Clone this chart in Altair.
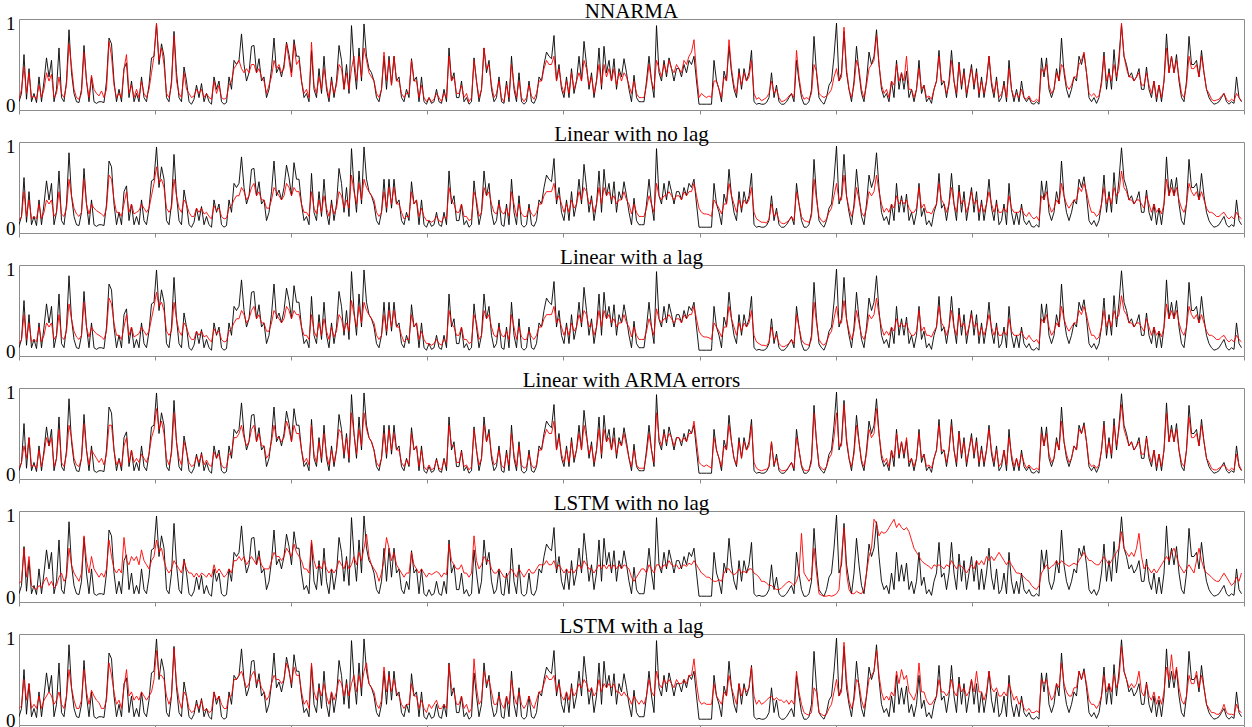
import altair as alt
import pandas as pd

# Observed series (scaled 0..1), shared by every panel
observed = [
    0.05, 0.15, 0.62, 0.08, 0.45, 0.05, 0.15, 0.04, 0.35, 0.05,
    0.3, 0.58, 0.35, 0.55, 0.05, 0.2, 0.7, 0.1, 0.05, 0.3,
    0.92, 0.4, 0.15, 0.05, 0.04, 0.2, 0.73, 0.3, 0.05, 0.35,
    0.05, 0.03, 0.05, 0.05, 0.04, 0.3, 0.82, 0.75, 0.3, 0.05,
    0.2, 0.05, 0.45, 0.52, 0.1, 0.3, 0.05, 0.15, 0.05, 0.35,
    0.1, 0.05, 0.25, 0.58, 0.6, 0.99, 0.5, 0.75, 0.6, 0.1,
    0.05, 0.3, 0.9, 0.4, 0.1, 0.05, 0.47, 0.3, 0.05, 0.02,
    0.08, 0.25, 0.1, 0.27, 0.05, 0.15, 0.05, 0.02, 0.35, 0.2,
    0.3, 0.05, 0.02, 0.04, 0.35, 0.2, 0.55, 0.5, 0.55, 0.87,
    0.5, 0.3, 0.4, 0.72, 0.73, 0.4, 0.57, 0.3, 0.35, 0.1,
    0.2, 0.45, 0.82, 0.4, 0.47, 0.35, 0.5, 0.77, 0.62, 0.4,
    0.8, 0.6, 0.6, 0.3, 0.1, 0.15, 0.05, 0.67, 0.2, 0.1,
    0.45, 0.15, 0.6, 0.2, 0.05, 0.35, 0.1, 0.3, 0.73, 0.55,
    0.2, 0.5, 0.15, 0.97, 0.5, 0.2, 0.7, 0.3, 0.99, 0.6,
    0.45, 0.4, 0.3, 0.1, 0.05, 0.2, 0.6, 0.2, 0.6, 0.25,
    0.6, 0.3, 0.35, 0.1, 0.05, 0.2, 0.1, 0.57, 0.3, 0.35,
    0.05, 0.35, 0.05, 0.02, 0.1, 0.03, 0.05, 0.2, 0.05, 0.03,
    0.2, 0.05, 0.7, 0.3, 0.4, 0.1, 0.1, 0.3, 0.05, 0.1,
    0.02, 0.05, 0.58, 0.3, 0.05, 0.2, 0.7, 0.4, 0.55, 0.2,
    0.05, 0.1, 0.35, 0.05, 0.03, 0.3, 0.05, 0.6, 0.2, 0.05,
    0.4, 0.05, 0.02, 0.05, 0.3, 0.05, 0.03, 0.1, 0.35, 0.3,
    0.5, 0.65, 0.6, 0.57, 0.85, 0.3, 0.5, 0.2, 0.1, 0.35,
    0.1, 0.45, 0.15, 0.3, 0.6, 0.3, 0.78, 0.5, 0.2, 0.4,
    0.1, 0.3, 0.7, 0.2, 0.72, 0.4, 0.55, 0.3, 0.57, 0.2,
    0.45, 0.35, 0.57, 0.4, 0.2, 0.05, 0.37, 0.1, 0.05, 0.05,
    0.05, 0.3, 0.6, 0.3, 0.1, 0.97, 0.4, 0.3, 0.55, 0.35,
    0.58, 0.45, 0.3, 0.45, 0.45, 0.35, 0.5, 0.4, 0.55, 0.5,
    0.6, 0.3, 0.02, 0.02, 0.02, 0.02, 0.02, 0.02, 0.55, 0.3,
    0.2, 0.05, 0.42, 0.3, 0.72, 0.4, 0.2, 0.1, 0.45, 0.2,
    0.45, 0.3, 0.4, 0.67, 0.05, 0.02, 0.03, 0.02, 0.02, 0.04,
    0.1, 0.4, 0.1, 0.25, 0.05, 0.02, 0.02, 0.05, 0.1, 0.15,
    0.05, 0.55, 0.3, 0.1, 0.02, 0.02, 0.05, 0.2, 0.84, 0.4,
    0.1, 0.05, 0.02, 0.1, 0.25, 0.3, 0.6, 1.0, 0.3, 0.4,
    0.9, 0.4, 0.2, 0.05, 0.3, 0.72, 0.4, 0.15, 0.05, 0.3,
    0.65, 0.5, 0.6, 0.92, 0.5, 0.2, 0.1, 0.15, 0.05, 0.3,
    0.1, 0.55, 0.2, 0.4, 0.2, 0.42, 0.1, 0.2, 0.05, 0.2,
    0.55, 0.15, 0.25, 0.05, 0.1, 0.03, 0.2, 0.3, 0.67, 0.25,
    0.3, 0.1, 0.3, 0.67, 0.3, 0.1, 0.53, 0.2, 0.45, 0.1,
    0.3, 0.5, 0.2, 0.45, 0.1, 0.35, 0.1, 0.3, 0.6, 0.25,
    0.1, 0.35, 0.05, 0.1, 0.3, 0.05, 0.55, 0.2, 0.05, 0.2,
    0.05, 0.3, 0.1, 0.05, 0.1, 0.03, 0.02, 0.05, 0.02, 0.58,
    0.35, 0.58, 0.2, 0.1, 0.2, 0.45, 0.3, 0.82, 0.4, 0.2,
    0.1, 0.2, 0.35, 0.3, 0.6, 0.5, 0.63, 0.4, 0.1, 0.05,
    0.1, 0.03, 0.1, 0.3, 0.65, 0.2, 0.45, 0.2, 0.68, 0.3,
    0.6, 0.98, 0.6, 0.5, 0.35, 0.4, 0.3, 0.35, 0.45, 0.2,
    0.2, 0.47, 0.2, 0.1, 0.3, 0.05, 0.25, 0.05, 0.3, 0.87,
    0.4, 0.6, 0.4, 0.62, 0.3, 0.1, 0.05, 0.3, 0.84, 0.5,
    0.5, 0.55, 0.35, 0.67, 0.4, 0.2, 0.1, 0.05, 0.02, 0.03,
    0.05, 0.1, 0.15, 0.05, 0.02, 0.05, 0.03, 0.35, 0.1, 0.05,
]

# Fitted values of each model
nnarma = [
    0.08, 0.2, 0.47, 0.15, 0.4, 0.1, 0.12, 0.08, 0.25, 0.1,
    0.2, 0.4, 0.3, 0.38, 0.1, 0.15, 0.35, 0.15, 0.1, 0.25,
    0.75, 0.48, 0.2, 0.1, 0.08, 0.15, 0.65, 0.3, 0.1, 0.37,
    0.2, 0.15, 0.12, 0.18, 0.1, 0.2, 0.78, 0.6, 0.25, 0.1,
    0.15, 0.1, 0.45, 0.62, 0.15, 0.25, 0.1, 0.2, 0.1, 0.3,
    0.15, 0.1, 0.2, 0.4, 0.6, 1.0, 0.55, 0.7, 0.5, 0.15,
    0.1, 0.25, 0.85, 0.3, 0.15, 0.1, 0.4, 0.2, 0.15, 0.1,
    0.12, 0.2, 0.15, 0.2, 0.1, 0.15, 0.1, 0.08, 0.3, 0.15,
    0.25, 0.1, 0.08, 0.1, 0.25, 0.3, 0.45, 0.5, 0.55, 0.45,
    0.4, 0.45, 0.4, 0.5, 0.5, 0.4, 0.45, 0.35, 0.3, 0.15,
    0.25, 0.35, 0.55, 0.45, 0.5, 0.4, 0.45, 0.75, 0.55, 0.35,
    0.75, 0.5, 0.55, 0.3, 0.15, 0.2, 0.1, 0.77, 0.25, 0.15,
    0.35, 0.2, 0.45, 0.25, 0.1, 0.3, 0.15, 0.25, 0.5, 0.45,
    0.2, 0.4, 0.2, 0.45, 0.6, 0.3, 0.6, 0.35, 0.7, 0.55,
    0.4, 0.35, 0.3, 0.15, 0.1, 0.2, 0.65, 0.3, 0.55, 0.25,
    0.6, 0.3, 0.3, 0.15, 0.1, 0.15, 0.15, 0.55, 0.3, 0.3,
    0.1, 0.25, 0.1, 0.05, 0.1, 0.05, 0.08, 0.15, 0.1, 0.05,
    0.15, 0.1, 0.6, 0.3, 0.35, 0.15, 0.15, 0.25, 0.1, 0.15,
    0.05, 0.1, 0.55, 0.3, 0.1, 0.2, 0.7, 0.45, 0.5, 0.25,
    0.1, 0.15, 0.3, 0.1, 0.05, 0.25, 0.1, 0.5, 0.25, 0.1,
    0.3, 0.1, 0.05, 0.1, 0.25, 0.12, 0.08, 0.15, 0.3, 0.3,
    0.45, 0.55, 0.5, 0.5, 0.6, 0.3, 0.45, 0.25, 0.15, 0.3,
    0.15, 0.4, 0.2, 0.3, 0.4, 0.3, 0.55, 0.45, 0.25, 0.35,
    0.15, 0.3, 0.5, 0.25, 0.5, 0.35, 0.45, 0.3, 0.45, 0.25,
    0.4, 0.3, 0.4, 0.35, 0.25, 0.15, 0.3, 0.15, 0.1, 0.1,
    0.1, 0.25, 0.5, 0.3, 0.2, 0.55, 0.45, 0.35, 0.5, 0.4,
    0.55, 0.45, 0.4, 0.5, 0.45, 0.4, 0.55, 0.5, 0.6, 0.65,
    0.8, 0.4, 0.1, 0.15, 0.12, 0.1, 0.12, 0.1, 0.3, 0.3,
    0.2, 0.1, 0.35, 0.3, 0.8, 0.45, 0.25, 0.15, 0.4, 0.25,
    0.4, 0.3, 0.35, 0.55, 0.15, 0.08, 0.1, 0.06, 0.08, 0.1,
    0.15, 0.3, 0.15, 0.2, 0.1, 0.05, 0.06, 0.08, 0.12, 0.15,
    0.1, 0.67, 0.35, 0.15, 0.08, 0.1, 0.08, 0.15, 0.5, 0.42,
    0.15, 0.12, 0.1, 0.12, 0.15, 0.2, 0.35, 0.45, 0.3, 0.35,
    0.95, 0.45, 0.2, 0.1, 0.25, 0.55, 0.45, 0.2, 0.1, 0.25,
    0.45, 0.5, 0.55, 0.85, 0.5, 0.25, 0.15, 0.2, 0.1, 0.3,
    0.25, 0.5, 0.3, 0.4, 0.3, 0.6, 0.2, 0.2, 0.1, 0.2,
    0.45, 0.2, 0.25, 0.1, 0.12, 0.08, 0.2, 0.3, 0.6, 0.3,
    0.3, 0.15, 0.25, 0.55, 0.3, 0.15, 0.5, 0.25, 0.4, 0.15,
    0.3, 0.45, 0.25, 0.4, 0.15, 0.3, 0.15, 0.3, 0.6, 0.3,
    0.15, 0.3, 0.1, 0.15, 0.25, 0.1, 0.45, 0.2, 0.1, 0.15,
    0.1, 0.2, 0.1, 0.08, 0.12, 0.06, 0.05, 0.08, 0.05, 0.45,
    0.4, 0.5, 0.25, 0.15, 0.2, 0.4, 0.3, 0.5, 0.45, 0.25,
    0.2, 0.25, 0.35, 0.35, 0.5, 0.55, 0.65, 0.4, 0.15, 0.12,
    0.15, 0.1, 0.12, 0.25, 0.6, 0.3, 0.4, 0.3, 0.5, 0.35,
    0.5, 1.0, 0.6, 0.45, 0.35, 0.35, 0.3, 0.35, 0.4, 0.25,
    0.25, 0.4, 0.25, 0.15, 0.3, 0.1, 0.25, 0.1, 0.3, 0.7,
    0.4, 0.6, 0.4, 0.55, 0.35, 0.15, 0.1, 0.25, 0.6, 0.45,
    0.45, 0.5, 0.35, 0.6, 0.4, 0.2, 0.15, 0.08, 0.06, 0.07,
    0.08, 0.12, 0.15, 0.08, 0.05, 0.08, 0.06, 0.15, 0.1, 0.06,
]

linear_no_lag = [
    0.1, 0.15, 0.45, 0.15, 0.35, 0.12, 0.15, 0.12, 0.3, 0.12,
    0.2, 0.35, 0.3, 0.35, 0.15, 0.2, 0.45, 0.18, 0.15, 0.25,
    0.6, 0.4, 0.25, 0.18, 0.15, 0.2, 0.6, 0.3, 0.18, 0.3,
    0.25, 0.22, 0.2, 0.18, 0.15, 0.25, 0.65, 0.6, 0.35, 0.2,
    0.2, 0.15, 0.3, 0.45, 0.2, 0.3, 0.18, 0.2, 0.22, 0.3,
    0.25, 0.2, 0.25, 0.4, 0.55, 0.75, 0.55, 0.6, 0.5, 0.25,
    0.2, 0.25, 0.6, 0.4, 0.25, 0.2, 0.35, 0.3, 0.2, 0.15,
    0.15, 0.25, 0.2, 0.25, 0.18, 0.2, 0.15, 0.12, 0.28, 0.22,
    0.25, 0.15, 0.12, 0.13, 0.25, 0.28, 0.35, 0.4, 0.4, 0.5,
    0.45, 0.35, 0.4, 0.5, 0.55, 0.4, 0.45, 0.35, 0.35, 0.25,
    0.25, 0.35, 0.5, 0.45, 0.4, 0.35, 0.4, 0.55, 0.5, 0.4,
    0.5, 0.45, 0.45, 0.3, 0.2, 0.2, 0.15, 0.45, 0.25, 0.18,
    0.35, 0.2, 0.4, 0.25, 0.15, 0.3, 0.18, 0.25, 0.45, 0.4,
    0.25, 0.35, 0.25, 0.65, 0.45, 0.3, 0.55, 0.35, 0.6, 0.5,
    0.45, 0.4, 0.35, 0.2, 0.15, 0.2, 0.45, 0.25, 0.5, 0.3,
    0.5, 0.3, 0.3, 0.2, 0.12, 0.15, 0.15, 0.45, 0.3, 0.35,
    0.15, 0.25, 0.15, 0.1, 0.1, 0.08, 0.1, 0.15, 0.1, 0.08,
    0.15, 0.12, 0.5, 0.35, 0.3, 0.2, 0.2, 0.3, 0.15, 0.15,
    0.1, 0.12, 0.45, 0.35, 0.15, 0.2, 0.5, 0.4, 0.45, 0.3,
    0.2, 0.18, 0.3, 0.2, 0.18, 0.25, 0.15, 0.45, 0.3, 0.15,
    0.3, 0.18, 0.15, 0.15, 0.25, 0.18, 0.15, 0.2, 0.3, 0.3,
    0.4, 0.45, 0.45, 0.45, 0.55, 0.35, 0.4, 0.3, 0.2, 0.3,
    0.2, 0.35, 0.25, 0.3, 0.45, 0.35, 0.5, 0.45, 0.3, 0.35,
    0.2, 0.3, 0.5, 0.3, 0.5, 0.4, 0.45, 0.35, 0.4, 0.3,
    0.35, 0.35, 0.45, 0.35, 0.3, 0.18, 0.3, 0.2, 0.15, 0.15,
    0.15, 0.25, 0.4, 0.3, 0.2, 0.55, 0.4, 0.35, 0.4, 0.4,
    0.45, 0.4, 0.35, 0.4, 0.4, 0.35, 0.45, 0.4, 0.45, 0.45,
    0.55, 0.4, 0.25, 0.2, 0.18, 0.18, 0.17, 0.15, 0.35, 0.3,
    0.25, 0.18, 0.3, 0.3, 0.55, 0.4, 0.3, 0.2, 0.35, 0.25,
    0.35, 0.3, 0.35, 0.5, 0.2, 0.12, 0.1, 0.08, 0.08, 0.07,
    0.12, 0.3, 0.15, 0.2, 0.1, 0.07, 0.06, 0.08, 0.1, 0.15,
    0.1, 0.45, 0.3, 0.15, 0.1, 0.09, 0.08, 0.15, 0.6, 0.35,
    0.15, 0.1, 0.08, 0.12, 0.2, 0.25, 0.4, 0.55, 0.35, 0.35,
    0.65, 0.4, 0.25, 0.15, 0.25, 0.5, 0.35, 0.2, 0.15, 0.25,
    0.45, 0.4, 0.45, 0.65, 0.45, 0.3, 0.2, 0.25, 0.2, 0.3,
    0.25, 0.4, 0.3, 0.35, 0.3, 0.35, 0.25, 0.2, 0.2, 0.25,
    0.5, 0.25, 0.3, 0.2, 0.2, 0.18, 0.25, 0.3, 0.55, 0.35,
    0.3, 0.2, 0.3, 0.5, 0.3, 0.2, 0.45, 0.3, 0.35, 0.2,
    0.3, 0.45, 0.3, 0.35, 0.2, 0.3, 0.2, 0.3, 0.45, 0.3,
    0.2, 0.3, 0.2, 0.2, 0.25, 0.2, 0.4, 0.25, 0.2, 0.2,
    0.2, 0.25, 0.18, 0.15, 0.2, 0.15, 0.12, 0.15, 0.1, 0.4,
    0.35, 0.45, 0.3, 0.2, 0.25, 0.35, 0.3, 0.55, 0.4, 0.3,
    0.25, 0.3, 0.35, 0.35, 0.5, 0.45, 0.55, 0.45, 0.3, 0.2,
    0.2, 0.15, 0.18, 0.3, 0.5, 0.3, 0.4, 0.3, 0.5, 0.4,
    0.45, 0.7, 0.5, 0.45, 0.35, 0.35, 0.3, 0.35, 0.35, 0.3,
    0.25, 0.4, 0.3, 0.2, 0.3, 0.2, 0.25, 0.18, 0.3, 0.6,
    0.4, 0.5, 0.4, 0.5, 0.35, 0.25, 0.2, 0.3, 0.55, 0.45,
    0.4, 0.45, 0.35, 0.45, 0.35, 0.25, 0.2, 0.2, 0.18, 0.15,
    0.15, 0.18, 0.2, 0.15, 0.12, 0.15, 0.12, 0.2, 0.15, 0.12,
]

linear_with_lag = [
    0.1, 0.15, 0.45, 0.15, 0.35, 0.12, 0.15, 0.12, 0.3, 0.12,
    0.2, 0.35, 0.3, 0.35, 0.15, 0.2, 0.45, 0.18, 0.15, 0.25,
    0.58, 0.4, 0.25, 0.18, 0.15, 0.2, 0.6, 0.3, 0.18, 0.3,
    0.25, 0.22, 0.2, 0.18, 0.15, 0.25, 0.65, 0.58, 0.35, 0.2,
    0.2, 0.15, 0.3, 0.45, 0.2, 0.3, 0.18, 0.2, 0.22, 0.3,
    0.25, 0.2, 0.25, 0.4, 0.55, 0.72, 0.55, 0.6, 0.5, 0.25,
    0.2, 0.25, 0.6, 0.4, 0.25, 0.2, 0.35, 0.3, 0.2, 0.15,
    0.15, 0.25, 0.2, 0.25, 0.18, 0.2, 0.15, 0.12, 0.28, 0.22,
    0.25, 0.15, 0.12, 0.13, 0.25, 0.28, 0.35, 0.4, 0.4, 0.5,
    0.45, 0.35, 0.4, 0.5, 0.55, 0.4, 0.45, 0.35, 0.35, 0.25,
    0.25, 0.35, 0.5, 0.45, 0.4, 0.35, 0.4, 0.55, 0.5, 0.4,
    0.5, 0.45, 0.45, 0.3, 0.2, 0.2, 0.15, 0.45, 0.25, 0.18,
    0.35, 0.2, 0.4, 0.25, 0.15, 0.3, 0.18, 0.25, 0.45, 0.4,
    0.25, 0.35, 0.25, 0.62, 0.45, 0.3, 0.55, 0.35, 0.6, 0.5,
    0.45, 0.4, 0.35, 0.2, 0.15, 0.2, 0.45, 0.25, 0.5, 0.3,
    0.5, 0.3, 0.3, 0.2, 0.12, 0.15, 0.15, 0.45, 0.3, 0.35,
    0.15, 0.25, 0.15, 0.1, 0.1, 0.08, 0.1, 0.15, 0.1, 0.08,
    0.15, 0.12, 0.5, 0.35, 0.3, 0.2, 0.2, 0.3, 0.15, 0.15,
    0.1, 0.12, 0.45, 0.35, 0.15, 0.2, 0.5, 0.4, 0.45, 0.3,
    0.2, 0.18, 0.3, 0.2, 0.18, 0.25, 0.15, 0.45, 0.3, 0.15,
    0.3, 0.18, 0.15, 0.15, 0.25, 0.18, 0.15, 0.2, 0.3, 0.3,
    0.4, 0.45, 0.45, 0.45, 0.55, 0.35, 0.4, 0.3, 0.2, 0.3,
    0.2, 0.35, 0.25, 0.3, 0.45, 0.35, 0.5, 0.45, 0.3, 0.35,
    0.2, 0.3, 0.5, 0.3, 0.5, 0.4, 0.45, 0.35, 0.4, 0.3,
    0.35, 0.35, 0.45, 0.35, 0.3, 0.18, 0.3, 0.2, 0.15, 0.15,
    0.15, 0.25, 0.4, 0.3, 0.2, 0.52, 0.4, 0.35, 0.4, 0.4,
    0.45, 0.4, 0.35, 0.4, 0.4, 0.35, 0.45, 0.4, 0.45, 0.45,
    0.55, 0.4, 0.25, 0.2, 0.18, 0.18, 0.17, 0.15, 0.35, 0.3,
    0.25, 0.18, 0.3, 0.3, 0.55, 0.4, 0.3, 0.2, 0.35, 0.25,
    0.35, 0.3, 0.35, 0.5, 0.2, 0.12, 0.1, 0.08, 0.08, 0.07,
    0.12, 0.3, 0.15, 0.2, 0.1, 0.07, 0.06, 0.08, 0.1, 0.15,
    0.1, 0.45, 0.3, 0.15, 0.1, 0.09, 0.08, 0.15, 0.6, 0.35,
    0.15, 0.1, 0.08, 0.12, 0.2, 0.25, 0.4, 0.55, 0.35, 0.35,
    0.62, 0.4, 0.25, 0.15, 0.25, 0.5, 0.35, 0.2, 0.15, 0.25,
    0.45, 0.4, 0.45, 0.65, 0.45, 0.3, 0.2, 0.25, 0.2, 0.3,
    0.25, 0.4, 0.3, 0.35, 0.3, 0.35, 0.25, 0.2, 0.2, 0.25,
    0.5, 0.25, 0.3, 0.2, 0.2, 0.18, 0.25, 0.3, 0.55, 0.35,
    0.3, 0.2, 0.3, 0.5, 0.3, 0.2, 0.45, 0.3, 0.35, 0.2,
    0.3, 0.45, 0.3, 0.35, 0.2, 0.3, 0.2, 0.3, 0.45, 0.3,
    0.2, 0.3, 0.2, 0.2, 0.25, 0.2, 0.4, 0.25, 0.2, 0.2,
    0.2, 0.25, 0.18, 0.15, 0.2, 0.15, 0.12, 0.15, 0.1, 0.4,
    0.35, 0.45, 0.3, 0.2, 0.25, 0.35, 0.3, 0.55, 0.4, 0.3,
    0.25, 0.3, 0.35, 0.35, 0.5, 0.45, 0.55, 0.45, 0.3, 0.2,
    0.2, 0.15, 0.18, 0.3, 0.5, 0.3, 0.4, 0.3, 0.5, 0.4,
    0.45, 0.68, 0.5, 0.45, 0.35, 0.35, 0.3, 0.35, 0.35, 0.3,
    0.25, 0.4, 0.3, 0.2, 0.3, 0.2, 0.25, 0.18, 0.3, 0.58,
    0.4, 0.5, 0.4, 0.5, 0.35, 0.25, 0.2, 0.3, 0.55, 0.45,
    0.4, 0.45, 0.35, 0.45, 0.35, 0.25, 0.2, 0.2, 0.18, 0.15,
    0.15, 0.18, 0.2, 0.15, 0.12, 0.15, 0.12, 0.2, 0.15, 0.12,
]

linear_arma_errors = [
    0.08, 0.15, 0.35, 0.2, 0.45, 0.1, 0.12, 0.08, 0.3, 0.1,
    0.25, 0.45, 0.35, 0.45, 0.1, 0.2, 0.55, 0.15, 0.1, 0.25,
    0.6, 0.45, 0.2, 0.12, 0.1, 0.2, 0.62, 0.3, 0.12, 0.3,
    0.25, 0.2, 0.15, 0.2, 0.12, 0.25, 0.6, 0.6, 0.3, 0.12,
    0.18, 0.1, 0.35, 0.45, 0.15, 0.3, 0.15, 0.2, 0.15, 0.25,
    0.2, 0.15, 0.25, 0.45, 0.55, 0.8, 0.55, 0.65, 0.5, 0.2,
    0.12, 0.25, 0.75, 0.4, 0.2, 0.12, 0.4, 0.28, 0.15, 0.1,
    0.12, 0.22, 0.15, 0.25, 0.12, 0.18, 0.12, 0.1, 0.28, 0.2,
    0.25, 0.12, 0.08, 0.1, 0.25, 0.25, 0.45, 0.45, 0.5, 0.6,
    0.45, 0.35, 0.4, 0.55, 0.6, 0.4, 0.5, 0.35, 0.35, 0.2,
    0.25, 0.4, 0.6, 0.45, 0.45, 0.4, 0.45, 0.65, 0.55, 0.4,
    0.6, 0.5, 0.5, 0.3, 0.15, 0.2, 0.12, 0.6, 0.25, 0.15,
    0.4, 0.2, 0.5, 0.25, 0.12, 0.3, 0.15, 0.3, 0.55, 0.5,
    0.25, 0.45, 0.2, 0.75, 0.5, 0.25, 0.55, 0.35, 0.75, 0.55,
    0.45, 0.4, 0.3, 0.15, 0.1, 0.2, 0.5, 0.25, 0.55, 0.3,
    0.5, 0.3, 0.3, 0.15, 0.1, 0.18, 0.12, 0.5, 0.3, 0.35,
    0.1, 0.3, 0.1, 0.06, 0.12, 0.06, 0.08, 0.18, 0.08, 0.06,
    0.18, 0.1, 0.6, 0.35, 0.35, 0.15, 0.15, 0.28, 0.1, 0.12,
    0.06, 0.1, 0.55, 0.3, 0.12, 0.2, 0.6, 0.4, 0.5, 0.25,
    0.12, 0.15, 0.3, 0.12, 0.08, 0.25, 0.12, 0.5, 0.25, 0.1,
    0.35, 0.12, 0.08, 0.1, 0.25, 0.12, 0.08, 0.12, 0.3, 0.3,
    0.45, 0.55, 0.5, 0.5, 0.65, 0.3, 0.45, 0.25, 0.15, 0.3,
    0.15, 0.4, 0.2, 0.3, 0.5, 0.3, 0.6, 0.45, 0.25, 0.35,
    0.15, 0.3, 0.55, 0.25, 0.55, 0.4, 0.45, 0.3, 0.45, 0.25,
    0.4, 0.35, 0.5, 0.35, 0.2, 0.1, 0.3, 0.12, 0.08, 0.08,
    0.08, 0.25, 0.5, 0.3, 0.15, 0.75, 0.45, 0.35, 0.5, 0.4,
    0.5, 0.45, 0.35, 0.45, 0.45, 0.4, 0.45, 0.4, 0.5, 0.5,
    0.65, 0.4, 0.15, 0.12, 0.1, 0.12, 0.1, 0.08, 0.45, 0.3,
    0.2, 0.1, 0.35, 0.3, 0.6, 0.4, 0.2, 0.12, 0.4, 0.2,
    0.4, 0.3, 0.35, 0.6, 0.15, 0.08, 0.06, 0.05, 0.06, 0.07,
    0.1, 0.4, 0.12, 0.2, 0.08, 0.05, 0.05, 0.06, 0.1, 0.15,
    0.08, 0.45, 0.3, 0.12, 0.06, 0.05, 0.06, 0.15, 0.75, 0.4,
    0.12, 0.08, 0.06, 0.1, 0.2, 0.25, 0.45, 0.75, 0.35, 0.35,
    0.85, 0.45, 0.2, 0.1, 0.25, 0.6, 0.4, 0.18, 0.1, 0.25,
    0.55, 0.45, 0.5, 0.8, 0.5, 0.25, 0.15, 0.2, 0.1, 0.3,
    0.2, 0.5, 0.25, 0.4, 0.25, 0.45, 0.15, 0.2, 0.1, 0.2,
    0.5, 0.2, 0.25, 0.1, 0.12, 0.08, 0.2, 0.3, 0.6, 0.3,
    0.3, 0.15, 0.3, 0.6, 0.3, 0.15, 0.5, 0.25, 0.4, 0.15,
    0.3, 0.45, 0.25, 0.4, 0.15, 0.3, 0.15, 0.3, 0.55, 0.3,
    0.15, 0.3, 0.1, 0.15, 0.3, 0.12, 0.45, 0.25, 0.1, 0.2,
    0.1, 0.25, 0.15, 0.08, 0.12, 0.08, 0.06, 0.08, 0.06, 0.5,
    0.35, 0.5, 0.25, 0.15, 0.2, 0.4, 0.3, 0.65, 0.4, 0.25,
    0.15, 0.2, 0.35, 0.3, 0.55, 0.5, 0.6, 0.4, 0.15, 0.1,
    0.12, 0.08, 0.12, 0.3, 0.6, 0.25, 0.4, 0.25, 0.6, 0.35,
    0.55, 0.85, 0.55, 0.45, 0.35, 0.4, 0.3, 0.35, 0.4, 0.25,
    0.25, 0.45, 0.25, 0.15, 0.3, 0.1, 0.25, 0.1, 0.3, 0.75,
    0.4, 0.55, 0.4, 0.55, 0.3, 0.15, 0.1, 0.3, 0.7, 0.45,
    0.45, 0.5, 0.35, 0.6, 0.4, 0.2, 0.15, 0.08, 0.06, 0.06,
    0.08, 0.1, 0.12, 0.08, 0.05, 0.08, 0.06, 0.25, 0.12, 0.06,
]

lstm_no_lag = [
    0.18, 0.2, 0.6, 0.25, 0.5, 0.15, 0.12, 0.1, 0.15, 0.12,
    0.2, 0.25, 0.15, 0.2, 0.12, 0.15, 0.25, 0.3, 0.2, 0.25,
    0.6, 0.4, 0.3, 0.25, 0.2, 0.3, 0.75, 0.45, 0.3, 0.5,
    0.35, 0.3, 0.25, 0.3, 0.25, 0.35, 0.7, 0.5, 0.35, 0.3,
    0.35, 0.3, 0.73, 0.45, 0.4, 0.5, 0.45, 0.5, 0.4, 0.58,
    0.45, 0.4, 0.35, 0.45, 0.5, 0.7, 0.55, 0.6, 0.45, 0.35,
    0.3, 0.35, 0.45, 0.4, 0.35, 0.3, 0.45, 0.35, 0.3, 0.3,
    0.25, 0.3, 0.25, 0.3, 0.28, 0.25, 0.3, 0.25, 0.4, 0.3,
    0.35, 0.3, 0.25, 0.28, 0.35, 0.3, 0.45, 0.45, 0.5, 0.45,
    0.5, 0.4, 0.45, 0.5, 0.45, 0.4, 0.5, 0.4, 0.35, 0.35,
    0.35, 0.45, 0.55, 0.5, 0.5, 0.45, 0.5, 0.6, 0.55, 0.5,
    0.65, 0.55, 0.5, 0.45, 0.35, 0.35, 0.3, 0.7, 0.45, 0.35,
    0.4, 0.35, 0.45, 0.35, 0.3, 0.35, 0.3, 0.35, 0.45, 0.4,
    0.35, 0.45, 0.35, 0.4, 0.5, 0.4, 0.55, 0.45, 0.6, 0.77,
    0.5, 0.4, 0.35, 0.3, 0.2, 0.3, 0.45, 0.73, 0.6, 0.45,
    0.55, 0.4, 0.35, 0.3, 0.25, 0.3, 0.3, 0.55, 0.4, 0.35,
    0.3, 0.35, 0.3, 0.25, 0.3, 0.28, 0.3, 0.32, 0.3, 0.25,
    0.3, 0.28, 0.65, 0.45, 0.4, 0.35, 0.35, 0.4, 0.3, 0.3,
    0.25, 0.3, 0.75, 0.45, 0.35, 0.4, 0.5, 0.45, 0.45, 0.35,
    0.3, 0.3, 0.35, 0.3, 0.25, 0.25, 0.3, 0.35, 0.3, 0.25,
    0.35, 0.3, 0.25, 0.3, 0.35, 0.3, 0.3, 0.35, 0.4, 0.4,
    0.4, 0.45, 0.4, 0.4, 0.45, 0.35, 0.4, 0.35, 0.3, 0.35,
    0.3, 0.35, 0.3, 0.35, 0.4, 0.35, 0.45, 0.4, 0.35, 0.35,
    0.3, 0.35, 0.4, 0.35, 0.4, 0.35, 0.4, 0.35, 0.4, 0.35,
    0.4, 0.35, 0.4, 0.38, 0.35, 0.25, 0.2, 0.25, 0.3, 0.35,
    0.35, 0.3, 0.4, 0.35, 0.3, 0.4, 0.4, 0.35, 0.4, 0.38,
    0.45, 0.4, 0.38, 0.4, 0.35, 0.38, 0.4, 0.38, 0.42, 0.4,
    0.45, 0.4, 0.35, 0.3, 0.28, 0.25, 0.25, 0.22, 0.2, 0.2,
    0.22, 0.2, 0.3, 0.35, 0.35, 0.3, 0.28, 0.3, 0.35, 0.3,
    0.32, 0.3, 0.35, 0.35, 0.3, 0.28, 0.25, 0.2, 0.2, 0.18,
    0.15, 0.15, 0.12, 0.1, 0.1, 0.12, 0.15, 0.18, 0.2, 0.18,
    0.15, 0.2, 0.3, 0.78, 0.3, 0.25, 0.2, 0.25, 0.6, 0.3,
    0.05, 0.03, 0.02, 0.02, 0.03, 0.02, 0.03, 0.05, 0.1, 0.5,
    0.85, 0.3, 0.1, 0.05, 0.05, 0.08, 0.06, 0.05, 0.1, 0.3,
    0.5, 0.6, 0.95, 0.9, 0.75, 0.8, 0.78, 0.8, 0.85, 0.9,
    0.95, 0.85, 0.9, 0.85, 0.82, 0.85, 0.8, 0.7, 0.6, 0.55,
    0.5, 0.45, 0.42, 0.4, 0.38, 0.35, 0.4, 0.38, 0.4, 0.38,
    0.35, 0.4, 0.38, 0.45, 0.4, 0.35, 0.4, 0.38, 0.35, 0.3,
    0.35, 0.4, 0.35, 0.45, 0.4, 0.45, 0.4, 0.5, 0.45, 0.5,
    0.45, 0.5, 0.55, 0.5, 0.45, 0.4, 0.45, 0.4, 0.35, 0.3,
    0.3, 0.28, 0.25, 0.22, 0.2, 0.15, 0.12, 0.1, 0.15, 0.3,
    0.35, 0.4, 0.35, 0.38, 0.4, 0.45, 0.4, 0.45, 0.42, 0.4,
    0.38, 0.4, 0.42, 0.4, 0.45, 0.5, 0.55, 0.5, 0.45, 0.45,
    0.42, 0.4, 0.4, 0.45, 0.5, 0.45, 0.4, 0.45, 0.5, 0.55,
    0.6, 0.8, 0.6, 0.55, 0.5, 0.55, 0.5, 0.6, 0.78, 0.5,
    0.35, 0.4, 0.35, 0.3, 0.35, 0.3, 0.35, 0.4, 0.45, 0.5,
    0.45, 0.55, 0.6, 0.5, 0.4, 0.35, 0.3, 0.35, 0.4, 0.35,
    0.3, 0.45, 0.6, 0.45, 0.35, 0.3, 0.28, 0.25, 0.22, 0.2,
    0.2, 0.25, 0.3, 0.25, 0.2, 0.15, 0.18, 0.25, 0.2, 0.3,
]

lstm_with_lag = [
    0.15, 0.18, 0.5, 0.25, 0.45, 0.15, 0.2, 0.15, 0.3, 0.15,
    0.25, 0.3, 0.35, 0.3, 0.2, 0.25, 0.35, 0.2, 0.15, 0.3,
    0.62, 0.4, 0.25, 0.15, 0.15, 0.25, 0.62, 0.35, 0.2, 0.37,
    0.3, 0.25, 0.22, 0.15, 0.15, 0.25, 0.7, 0.55, 0.35, 0.2,
    0.25, 0.15, 0.4, 0.62, 0.3, 0.35, 0.25, 0.3, 0.25, 0.35,
    0.3, 0.25, 0.3, 0.35, 0.5, 0.85, 0.55, 0.55, 0.5, 0.3,
    0.2, 0.3, 0.88, 0.45, 0.25, 0.15, 0.35, 0.3, 0.15, 0.1,
    0.12, 0.2, 0.15, 0.25, 0.12, 0.15, 0.1, 0.12, 0.35, 0.25,
    0.3, 0.2, 0.15, 0.15, 0.3, 0.3, 0.5, 0.5, 0.55, 0.6,
    0.5, 0.4, 0.45, 0.55, 0.6, 0.45, 0.5, 0.4, 0.35, 0.25,
    0.3, 0.45, 0.55, 0.5, 0.5, 0.45, 0.5, 0.7, 0.6, 0.45,
    0.65, 0.55, 0.55, 0.35, 0.2, 0.25, 0.15, 0.7, 0.35, 0.25,
    0.4, 0.3, 0.45, 0.3, 0.2, 0.35, 0.25, 0.35, 0.5, 0.45,
    0.3, 0.45, 0.3, 0.45, 0.55, 0.35, 0.55, 0.4, 0.6, 0.7,
    0.45, 0.4, 0.35, 0.2, 0.15, 0.25, 0.65, 0.35, 0.55, 0.35,
    0.5, 0.35, 0.3, 0.2, 0.15, 0.2, 0.2, 0.45, 0.3, 0.3,
    0.15, 0.25, 0.15, 0.1, 0.2, 0.15, 0.2, 0.25, 0.15, 0.15,
    0.2, 0.15, 0.68, 0.4, 0.35, 0.2, 0.2, 0.3, 0.15, 0.2,
    0.1, 0.15, 0.75, 0.4, 0.2, 0.25, 0.6, 0.45, 0.5, 0.35,
    0.2, 0.2, 0.3, 0.2, 0.15, 0.3, 0.2, 0.5, 0.3, 0.2,
    0.35, 0.2, 0.15, 0.2, 0.3, 0.2, 0.15, 0.25, 0.35, 0.35,
    0.45, 0.55, 0.5, 0.5, 0.55, 0.35, 0.45, 0.3, 0.25, 0.35,
    0.25, 0.4, 0.3, 0.35, 0.45, 0.4, 0.5, 0.45, 0.35, 0.4,
    0.3, 0.35, 0.5, 0.35, 0.45, 0.4, 0.45, 0.4, 0.45, 0.35,
    0.35, 0.3, 0.35, 0.3, 0.28, 0.2, 0.3, 0.25, 0.2, 0.25,
    0.2, 0.3, 0.5, 0.35, 0.3, 0.6, 0.45, 0.4, 0.5, 0.45,
    0.5, 0.45, 0.4, 0.5, 0.45, 0.45, 0.5, 0.45, 0.55, 0.55,
    0.75, 0.45, 0.25, 0.2, 0.22, 0.2, 0.2, 0.2, 0.45, 0.3,
    0.25, 0.2, 0.35, 0.3, 0.55, 0.4, 0.3, 0.2, 0.45, 0.3,
    0.4, 0.35, 0.4, 0.65, 0.3, 0.2, 0.25, 0.2, 0.22, 0.25,
    0.28, 0.3, 0.25, 0.28, 0.25, 0.25, 0.22, 0.25, 0.2, 0.25,
    0.2, 0.6, 0.35, 0.2, 0.1, 0.08, 0.07, 0.1, 0.4, 0.35,
    0.1, 0.08, 0.06, 0.08, 0.15, 0.2, 0.35, 0.5, 0.3, 0.35,
    0.95, 0.5, 0.25, 0.15, 0.25, 0.5, 0.45, 0.25, 0.15, 0.3,
    0.5, 0.55, 0.6, 0.85, 0.55, 0.35, 0.25, 0.3, 0.25, 0.35,
    0.3, 0.6, 0.45, 0.62, 0.5, 0.55, 0.35, 0.3, 0.25, 0.35,
    0.7, 0.35, 0.35, 0.25, 0.2, 0.2, 0.25, 0.3, 0.5, 0.35,
    0.35, 0.3, 0.35, 0.5, 0.35, 0.3, 0.45, 0.35, 0.4, 0.3,
    0.35, 0.5, 0.35, 0.6, 0.35, 0.35, 0.25, 0.35, 0.6, 0.4,
    0.35, 0.4, 0.3, 0.3, 0.35, 0.3, 0.45, 0.35, 0.25, 0.3,
    0.2, 0.25, 0.15, 0.12, 0.15, 0.1, 0.1, 0.12, 0.1, 0.5,
    0.45, 0.5, 0.35, 0.25, 0.3, 0.45, 0.4, 0.7, 0.45, 0.35,
    0.3, 0.3, 0.4, 0.4, 0.6, 0.5, 0.6, 0.45, 0.25, 0.2,
    0.2, 0.15, 0.2, 0.3, 0.55, 0.35, 0.45, 0.35, 0.55, 0.4,
    0.5, 0.9, 0.6, 0.5, 0.4, 0.45, 0.4, 0.45, 0.6, 0.35,
    0.3, 0.45, 0.3, 0.25, 0.35, 0.2, 0.3, 0.2, 0.35, 0.65,
    0.5, 0.8, 0.5, 0.65, 0.4, 0.25, 0.2, 0.3, 0.55, 0.45,
    0.45, 0.6, 0.4, 0.55, 0.4, 0.2, 0.15, 0.1, 0.1, 0.08,
    0.08, 0.12, 0.2, 0.1, 0.08, 0.08, 0.07, 0.2, 0.12, 0.1,
]

panels = [
    ("NNARMA", nnarma),
    ("Linear with no lag", linear_no_lag),
    ("Linear with a lag", linear_with_lag),
    ("Linear with ARMA errors", linear_arma_errors),
    ("LSTM with no lag", lstm_no_lag),
    ("LSTM with a lag", lstm_with_lag),
]

SERIF = "Liberation Serif"
STEP = 900 / len(observed)  # time units per sample; 900 units span the axis
X_TICKS = list(range(0, 901, 100))
Y_TICKS = [0, 1]


def frame(values):
    return pd.DataFrame({"t": [i * STEP for i in range(len(values))], "v": values})


def line(values, colour):
    return alt.Chart(frame(values)).mark_line(
        color=colour, strokeWidth=0.9, clip=True
    ).encode(
        x=alt.X(
            "t:Q",
            scale=alt.Scale(domain=[0, 900], nice=False, zero=False),
            axis=alt.Axis(
                values=X_TICKS, labels=False, ticks=True, tickSize=4,
                tickColor="#888888", domain=False, grid=False, title=None,
                minExtent=0,
            ),
        ),
        y=alt.Y(
            "v:Q",
            scale=alt.Scale(domain=[-0.05, 1.05], nice=False, zero=False),
            axis=alt.Axis(
                values=Y_TICKS, format="d", ticks=False, domain=False, grid=False,
                title=None, labelFont=SERIF, labelFontSize=19, labelColor="black",
                labelPadding=4, minExtent=0,
            ),
        ),
    )


charts = []
for name, fitted in panels:
    charts.append(
        alt.layer(line(observed, "black"), line(fitted, "red")).properties(
            width=1225,
            height=91,
            title=alt.TitleParams(
                name, font=SERIF, fontSize=21, fontWeight="normal",
                color="black", anchor="middle", offset=-8,
            ),
        )
    )

chart = alt.vconcat(*charts, spacing=6).properties(
    padding={"left": 5, "top": 0, "right": 0, "bottom": 0}
).configure_view(
    stroke="#8c8c8c", strokeWidth=1
).configure_axis(
    labelFlush=False
)

chart.save("out.html", embed_options={"renderer": "svg", "actions": False})
